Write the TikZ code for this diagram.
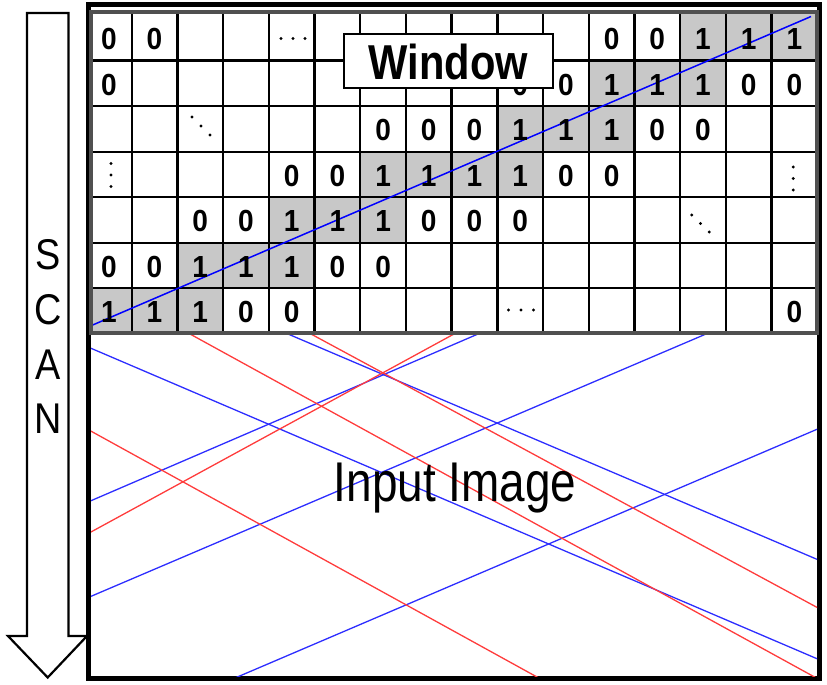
\documentclass[tikz,border=0pt]{standalone}
\usepackage{fontspec}
\setmainfont{Liberation Sans}
\usepackage{graphicx}
\definecolor{cellgray}{RGB}{200,200,200}
\definecolor{gridborder}{RGB}{80,80,80}
\definecolor{lineblue}{RGB}{45,45,255}
\definecolor{linered}{RGB}{255,60,60}
\begin{document}
\begin{tikzpicture}[x=1pt,y=-1pt,
  digit/.style={inner sep=0pt,font=\fontsize{30.5}{30.5}\selectfont\bfseries},
  dotmark/.style={fill=black,draw=none,circle,inner sep=0pt,minimum size=3.2pt},
  scanletter/.style={inner sep=0pt,anchor=base,font=\fontsize{43}{43}\selectfont},
  imgblue/.style={draw=lineblue,line width=1.3pt,shorten <=-80pt,shorten >=-80pt},
  imgred/.style={draw=linered,line width=1.3pt,shorten <=-80pt,shorten >=-80pt},
  gridline/.style={line width=2.4pt,black},
]
\useasboundingbox (0,0) rectangle (827,685);

% SCAN arrow
\draw[line width=2.2pt,fill=white,line join=miter] (27,13) -- (68.5,13) -- (68.5,636) -- (87,636) -- (47.7,677.5) -- (8,636) -- (27,636) -- cycle;
\node[scanletter] (scanS) at (47.7,269) {\scalebox{0.88}[1]{S}};
\node[scanletter] (scanC) at (47.7,324) {\scalebox{0.88}[1]{C}};
\node[scanletter] (scanA) at (47.7,379) {\scalebox{0.88}[1]{A}};
\node[scanletter] (scanN) at (47.7,433.5) {\scalebox{0.88}[1]{N}};

% outer frame
\draw[line width=5pt] (88.5,5) rectangle (819.5,678.5);

% lines of the input image
\begin{scope}
\clip (91,7.5) rectangle (817,676);
\draw[imgblue] (88,347) -- (820,660);
\draw[imgblue] (288,334) -- (820,560.6);
\draw[imgblue] (88,502) -- (478,334);
\draw[imgblue] (88,597.6) -- (706,334);
\draw[imgblue] (235,678) -- (820,428);
\draw[imgred] (190,334) -- (820,680);
\draw[imgred] (311,334) -- (820,609);
\draw[imgred] (88,429.5) -- (537,677);
\draw[imgred] (88,533.6) -- (454,334);
\end{scope}
\node[inner sep=0pt,anchor=base,font=\fontsize{56}{56}\selectfont] (input) at (455,501.7) {\scalebox{0.82}[1]{Input Image}};

% grid (window over the image)
\fill[white] (90.5,12) rectangle (816.5,333);
\begin{scope}
\clip (90.5,12) rectangle (816.5,333);
\foreach \c/\r in {14/1,15/1,16/1,12/2,13/2,14/2,10/3,11/3,12/3,7/4,8/4,9/4,10/4,5/5,6/5,7/5,3/6,4/6,5/6,1/7,2/7,3/7}
  \fill[cellgray] ({86+45.7*(\c-1)},{15.2+45.5*(\r-1)-10*(\r==1)}) rectangle ({86+45.7*\c},{15.2+45.5*\r});
\foreach \k in {1,...,15}
  \draw[gridline] ({86+45.7*\k},5) -- ({86+45.7*\k},340);
\foreach \k in {1,...,6}
  \draw[gridline] (85,{15.2+45.5*\k}) -- (820,{15.2+45.5*\k});
\end{scope}
\draw[blue,line width=1.5pt] (91.5,325.5) -- (811,16.5);
\foreach \c/\r/\v in {1/1/0,2/1/0,12/1/0,13/1/0,14/1/1,15/1/1,16/1/1,
  1/2/0,10/2/0,11/2/0,12/2/1,13/2/1,14/2/1,15/2/0,16/2/0,
  7/3/0,8/3/0,9/3/0,10/3/1,11/3/1,12/3/1,13/3/0,14/3/0,
  5/4/0,6/4/0,7/4/1,8/4/1,9/4/1,10/4/1,11/4/0,12/4/0,
  3/5/0,4/5/0,5/5/1,6/5/1,7/5/1,8/5/0,9/5/0,10/5/0,
  1/6/0,2/6/0,3/6/1,4/6/1,5/6/1,6/6/0,7/6/0,
  1/7/1,2/7/1,3/7/1,4/7/0,5/7/0,16/7/0}
  \node[digit] (d-\c-\r) at ({86+45.7*(\c-0.5)},{15.2+45.5*(\r-0.5)+1.5}) {\scalebox{0.92}[1]{\v}};
% dots
\foreach \x/\y [count=\i] in {281/38.5,293/38.5,305/38.5, 508.5/310,521/310,533.5/310,
  111/163.5,111/175,111/186.5, 793.3/167,793.3/178.5,793.3/190,
  192/117,201/126,210/135, 691.7/215,700.5/223.5,709.3/232}
  \node[dotmark] (dot\i) at (\x,\y) {};
\draw[gridborder,line width=4pt] (90.5,12) rectangle (816.5,333);

% Window label
\node[draw,line width=2pt,fill=white,minimum width=208.7pt,minimum height=53.4pt,inner sep=0pt,
  text height=38pt,text depth=0pt,font=\fontsize{49}{49}\selectfont\bfseries] (window) at (448.3,61) {\scalebox{0.85}[1]{Window}};
\end{tikzpicture}
\end{document}
